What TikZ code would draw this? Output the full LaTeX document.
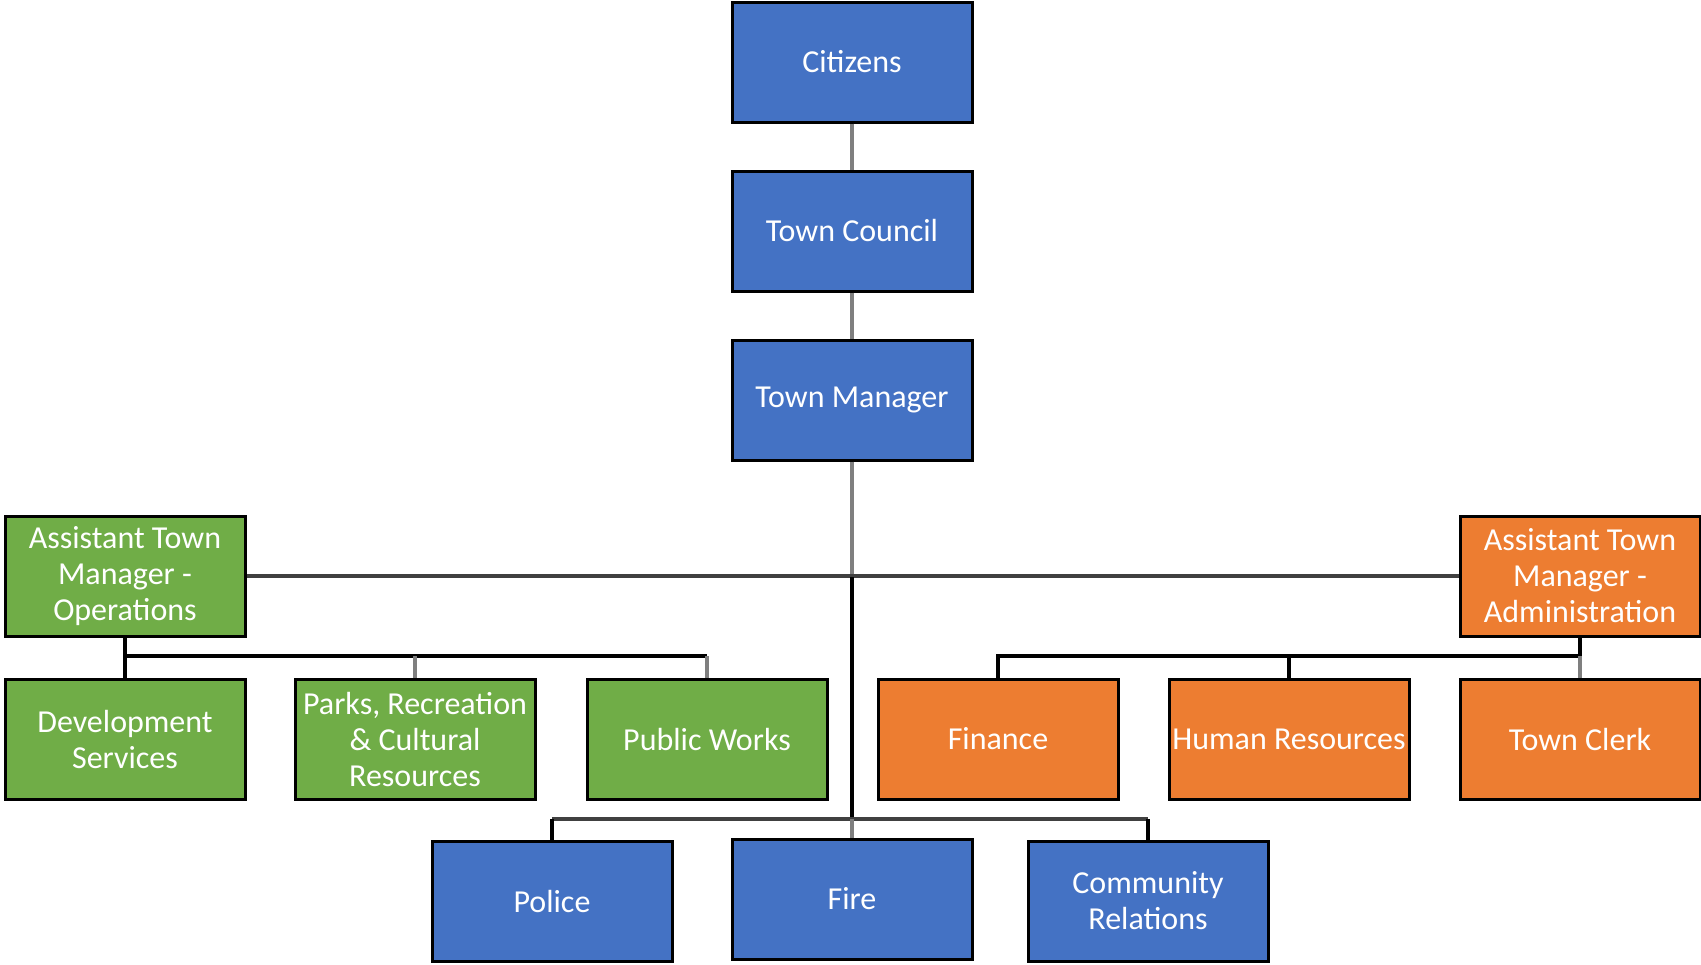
\documentclass[tikz,border=0pt]{standalone}
\usepackage{fontspec}
\setmainfont{Carlito}
\definecolor{boxblue}{HTML}{4472C4}
\definecolor{boxgreen}{HTML}{70AD47}
\definecolor{boxorange}{HTML}{ED7D31}
\definecolor{lgray}{HTML}{7F7F7F}
\definecolor{dgray}{HTML}{404040}
\begin{document}
\begin{tikzpicture}[x=0.5pt,y=-0.5pt,
  box/.style={draw=black,line width=1.5pt,minimum width=120pt,minimum height=60pt,
    inner sep=1pt,align=center,text=white,font=\fontsize{16}{18}\selectfont},
  bbox/.style={box,fill=boxblue},
  gbox/.style={box,fill=boxgreen},
  obox/.style={box,fill=boxorange},
  gline/.style={draw=lgray,line width=1.6pt},
  dline/.style={draw=dgray,line width=1.6pt},
  kline/.style={draw=black,line width=1.8pt}]
\useasboundingbox (0,0) rectangle (1701,964);
\node[bbox] (cit) at (852,62) {Citizens};
\node[bbox] (cou) at (852,231) {Town Council};
\node[bbox] (man) at (852,400) {Town Manager};
\node[gbox] (ops) at (125,576) {Assistant Town\\Manager -\\Operations};
\node[obox] (adm) at (1580,576) {Assistant Town\\Manager -\\Administration};
\node[gbox] (dev) at (125,739) {Development\\Services};
\node[gbox] (par) at (415,739) {Parks, Recreation\\\& Cultural\\Resources};
\node[gbox] (pw) at (707,739) {Public Works};
\node[obox] (fin) at (998,739) {Finance};
\node[obox] (hr) at (1289,739) {Human Resources};
\node[obox] (clk) at (1580,739) {Town Clerk};
\node[bbox] (pol) at (552,901) {Police};
\node[bbox] (fir) at (852,899) {Fire};
\node[bbox] (com) at (1148,901) {Community\\Relations};
\coordinate (hub) at (852,577);
\coordinate (low) at (852,819);
\coordinate (lj) at (125,656);
\coordinate (rj) at (1580,656);
% top chain
\draw[gline] (cit.south) -- (cou.north);
\draw[gline] (cou.south) -- (man.north);
\draw[gline] (man.south) -- (hub);
% main horizontal
\draw[dline] (ops.east) -- (adm.west);
% spine to bottom
\draw[kline] (hub) -- (low);
% bottom row
\draw[dline] (pol.north |- low) -- (com.north |- low);
\draw[kline] (pol.north) -- (pol.north |- low);
\draw[kline] (com.north) -- (com.north |- low);
\draw[gline] (fir.north) -- (low);
% left branch
\draw[kline] (ops.south) -- (lj) -- (pw.north |- lj);
\draw[kline] (dev.north) -- (lj);
\draw[gline] (par.north) -- (par.north |- lj);
\draw[gline] (pw.north) -- (pw.north |- lj);
% right branch
\draw[kline] (adm.south) -- (rj) -- (fin.north |- rj) -- (fin.north);
\draw[kline] (hr.north) -- (hr.north |- rj);
\draw[gline] (clk.north) -- (rj);
\end{tikzpicture}
\end{document}
